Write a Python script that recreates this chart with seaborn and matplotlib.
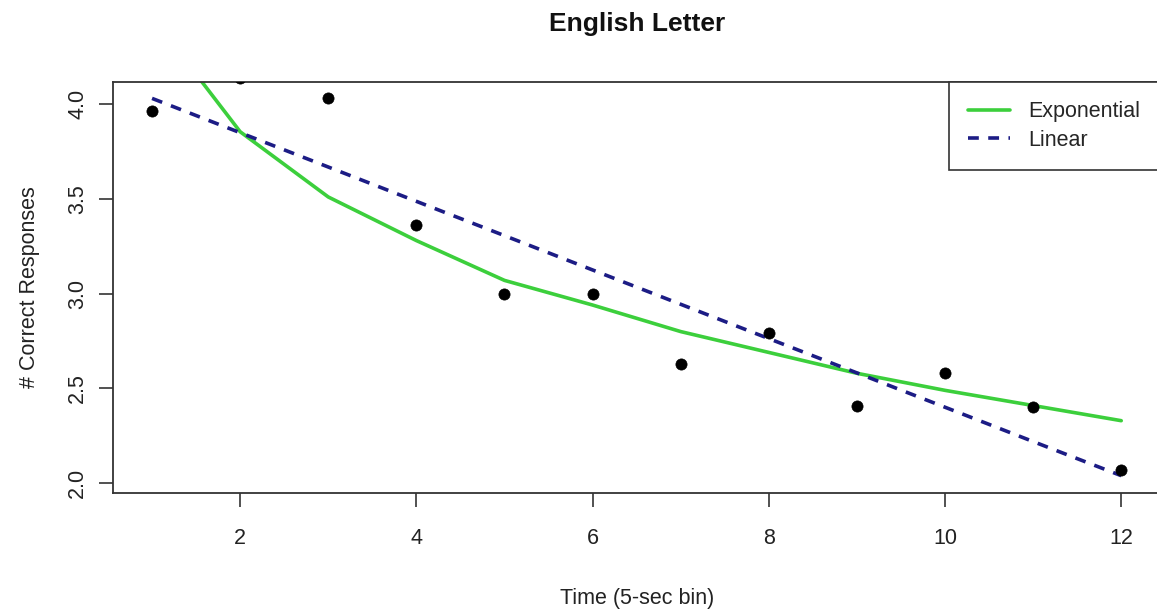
import matplotlib
matplotlib.use("Agg")
import matplotlib.pyplot as plt
import seaborn as sns
import pandas as pd

# Data
time_bins = [1, 2, 3, 4, 5, 6, 7, 8, 9, 10, 11, 12]
correct = [3.965, 4.14, 4.03, 3.36, 3.00, 3.00, 2.63, 2.79, 2.41, 2.58, 2.40, 2.07]
exp_fit = [4.46, 3.854, 3.51, 3.28, 3.07, 2.94, 2.80, 2.69, 2.58, 2.49, 2.41, 2.33]
lin_fit = [4.03, 3.849, 3.668, 3.487, 3.306, 3.125, 2.944, 2.763, 2.582, 2.401, 2.220, 2.04]
x_ticks = [2, 4, 6, 8, 10, 12]
y_ticks = [2.0, 2.5, 3.0, 3.5, 4.0]

df = pd.DataFrame({"time": time_bins, "correct": correct,
                   "exp": exp_fit, "lin": lin_fit})

sns.set_theme(style="white")
plt.rcParams['font.family'] = ['Liberation Sans', 'DejaVu Sans']
plt.rcParams['axes.edgecolor'] = '#333333'
plt.rcParams['axes.linewidth'] = 1.3

fig = plt.figure(figsize=(11.57, 6.15), dpi=100)
ax = fig.add_axes([113.3 / 1157, 1 - 493.3 / 615, (1160 - 113.3) / 1157, (493.3 - 81.7) / 615])

sns.lineplot(data=df, x="time", y="exp", ax=ax, color="#3ccf3c", linewidth=2.6,
             label="Exponential")
sns.lineplot(data=df, x="time", y="lin", ax=ax, color="#1c1c85", linewidth=2.6,
             linestyle=(0, (3, 2.6)), label="Linear")
sns.scatterplot(data=df, x="time", y="correct", ax=ax, color="black", s=65,
                edgecolor="black", linewidth=0.5, zorder=5)

ax.set_xlim(0.56, 12.44)
ax.set_ylim(1.947, 4.118)
ax.set_xticks(x_ticks)
ax.set_xticklabels([str(v) for v in x_ticks])
ax.set_yticks(y_ticks)
ax.set_yticklabels([f"{v:.1f}" for v in y_ticks], rotation=90, va="center")
ax.tick_params(axis="both", direction="out", length=10, width=1.2, color="#333333",
               labelsize=15.5, labelcolor="#222222", bottom=True, left=True)
ax.tick_params(axis="x", pad=15)
ax.tick_params(axis="y", pad=8)

ax.set_xlabel("Time (5-sec bin)", fontsize=15.5, color="#222222", labelpad=28)
ax.set_ylabel("# Correct Responses", fontsize=15.5, color="#222222", labelpad=20)
fig.text((113.3 + 1160) / 2 / 1157, 1 - 24 / 615, "English Letter", fontsize=19,
         fontweight="bold", ha="center", va="center", color="#111111")

leg = ax.legend(loc="upper right", borderaxespad=0, fancybox=False, framealpha=1,
                edgecolor="#333333", fontsize=15.5, handlelength=1.95,
                handletextpad=0.85, borderpad=0.9, labelspacing=0.35)
leg.get_frame().set_linewidth(1.2)

fig.savefig("out.png", dpi=100)
